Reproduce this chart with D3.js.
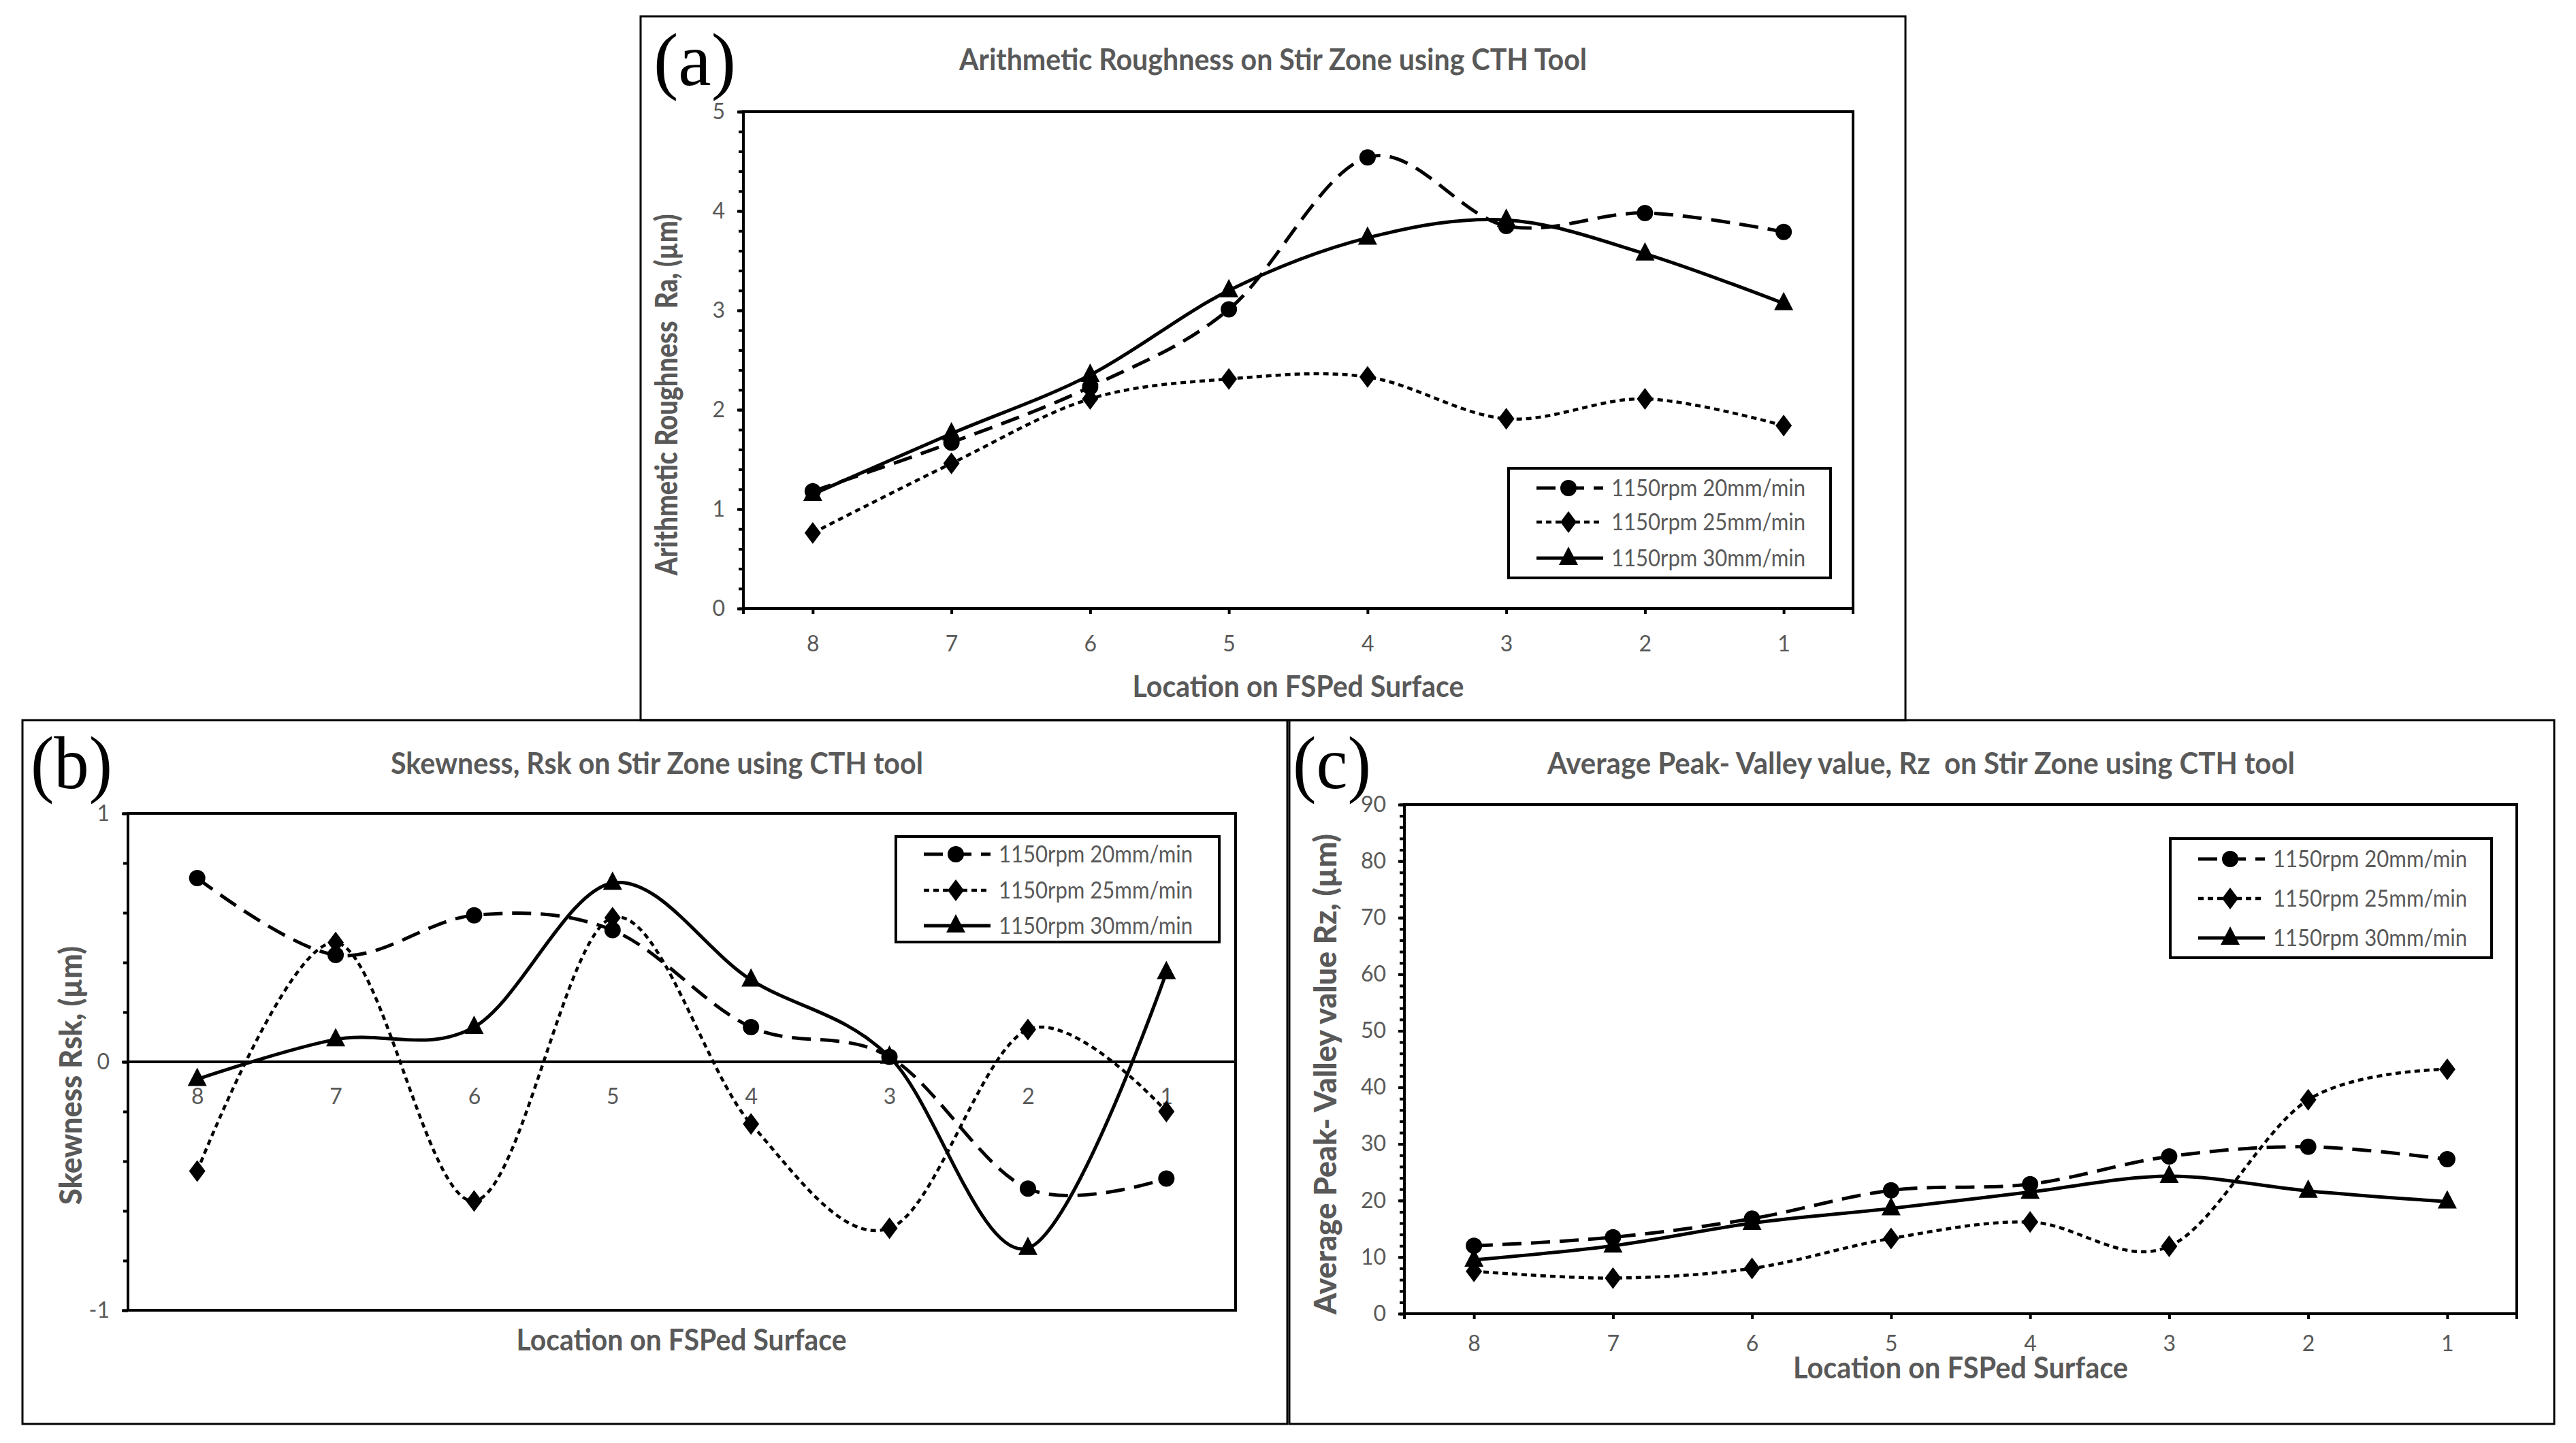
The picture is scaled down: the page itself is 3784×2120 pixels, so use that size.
<!DOCTYPE html>
<html>
<head>
<meta charset="utf-8">
<script src="https://cdn.jsdelivr.net/npm/d3@7"></script>
<style>
  html, body { margin: 0; padding: 0; background: #fff; }
  svg { display: block; }
  text { white-space: pre; }
</style>
</head>
<body>
<div id="chart"></div>
<script>
// categories (location on the processed surface, read right to left)
const locations = ["8", "7", "6", "5", "4", "3", "2", "1"];
const seriesNames = ["1150rpm 20mm/min", "1150rpm 25mm/min", "1150rpm 30mm/min"];

// (a) arithmetic roughness Ra, µm
const ra20 = [1.18, 1.67, 2.23, 3.01, 4.54, 3.85, 3.98, 3.79];
const ra25 = [0.76, 1.46, 2.11, 2.31, 2.33, 1.91, 2.11, 1.84];
const ra30 = [1.15, 1.76, 2.35, 3.20, 3.73, 3.91, 3.57, 3.07];

// (b) skewness Rsk
const rsk20 = [0.74, 0.43, 0.59, 0.53, 0.14, 0.02, -0.51, -0.47];
const rsk25 = [-0.44, 0.48, -0.56, 0.58, -0.25, -0.67, 0.13, -0.20];
const rsk30 = [-0.07, 0.09, 0.14, 0.72, 0.33, 0.02, -0.75, 0.36];

// (c) average peak-valley Rz, µm
const rz20 = [12.0, 13.5, 16.8, 21.8, 22.9, 27.8, 29.5, 27.3];
const rz25 = [7.5, 6.3, 8.0, 13.3, 16.2, 11.9, 37.8, 43.2];
const rz30 = [9.5, 12.0, 16.0, 18.6, 21.5, 24.3, 21.7, 19.8];

// tick labels
const raTicks = [0, 1, 2, 3, 4, 5];
const rskTicks = [-1, 0, 1];
const rzTicks = [0, 10, 20, 30, 40, 50, 60, 70, 80, 90];

const W = 3784, H = 2120;
const grey = "#595959";
const sans = "Lato, 'Open Sans', sans-serif";

const lineStyles = [
    { dash: "28,14", width: 5, marker: "circle" },
    { dash: "8,6", width: 4.5, marker: "diamond" },
    { dash: null, width: 5, marker: "triangle" }
];

const panels = [
    {
        label: "(a)", labelPos: [960, 125, 121],
        series: [ra20, ra25, ra30], ticks: raTicks, minorStep: 0.2,
        box: [941, 24, 2799, 1058], plot: [1092, 164, 2722, 894],
        title: "Arithmetic Roughness on Stir Zone using CTH Tool", titlePos: [1870, 103, 922],
        xTitlePos: [1907, 1024, 487],
        yTitle: "Arithmetic Roughness  Ra, (\u00b5m)", yTitlePos: [979, 580, 531],
        xTickY: 957, zeroAxis: false,
        legend: [2216, 688, 2689, 849], legendRows: [717, 767, 820]
    },
    {
        label: "(b)", labelPos: [45, 1158, 120],
        series: [rsk20, rsk25, rsk30], ticks: rskTicks, minorStep: 0.2,
        box: [33, 1058, 1891, 2092], plot: [188, 1195, 1815, 1925],
        title: "Skewness, Rsk on Stir Zone using CTH tool", titlePos: [965, 1137, 782],
        xTitlePos: [1001, 1984, 485],
        yTitle: "Skewness Rsk, (\u00b5m)", yTitlePos: [104, 1580, 380],
        xTickY: 1622, zeroAxis: true,
        legend: [1316, 1229, 1791, 1384], legendRows: [1255, 1308, 1360]
    },
    {
        label: "(c)", labelPos: [1899, 1158, 115],
        series: [rz20, rz25, rz30], ticks: rzTicks, minorStep: 2,
        box: [1894, 1058, 3752, 2092], plot: [2063, 1182, 3697, 1930],
        title: "Average Peak- Valley value, Rz  on Stir Zone using CTH tool", titlePos: [2822, 1137, 1098],
        xTitlePos: [2880, 2025, 492],
        yTitle: "Average Peak- Valley value Rz, (\u00b5m)", yTitlePos: [1947, 1578, 706],
        xTickY: 1985, zeroAxis: false,
        legend: [3188, 1232, 3660, 1407], legendRows: [1262, 1320, 1378]
    }
];

function markerPath(kind) {
    if (kind === "circle") return d3.symbol(d3.symbolCircle, Math.PI * 12 * 12)();
    if (kind === "diamond") return "M0,-16L12,0L0,16L-12,0Z";
    return "M0,-17L14,10L-14,10Z";
}

function styleAxis(sel) {
    sel.select(".domain").remove();
    sel.selectAll(".tick line")
        .attr("stroke", "#000")
        .attr("stroke-width", 4);
    sel.selectAll(".tick text")
        .attr("fill", grey)
        .style("font-family", sans)
        .style("font-size", "32px");
}

function drawPanel(svg, p) {
    const g = svg.append("g");
    const [left, top, right, bottom] = p.plot;

    // outer panel frame
    g.append("rect")
        .attr("x", p.box[0]).attr("y", p.box[1])
        .attr("width", p.box[2] - p.box[0]).attr("height", p.box[3] - p.box[1])
        .attr("fill", "none").attr("stroke", "#000").attr("stroke-width", 3);

    const x = d3.scalePoint().domain(locations).range([left, right]).padding(0.5);
    const y = d3.scaleLinear().domain(d3.extent(p.ticks)).range([bottom, top]);

    // minor and major y ticks
    const [lo, hi] = y.domain();
    const minor = d3.range(lo, hi + p.minorStep / 2, p.minorStep);
    g.append("g")
        .attr("transform", `translate(${left},0)`)
        .call(d3.axisLeft(y).tickValues(minor).tickSize(7).tickFormat(""))
        .call(styleAxis);
    g.append("g")
        .attr("transform", `translate(${left},0)`)
        .call(d3.axisLeft(y).tickValues(p.ticks).tickSize(9).tickPadding(18).tickFormat(d => String(d)))
        .call(styleAxis);

    // x axis: on the zero line for skewness, else at the bottom
    const axisY = p.zeroAxis ? y(0) : bottom;
    const xAxis = g.append("g")
        .attr("transform", `translate(0,${axisY})`)
        .call(d3.axisBottom(x).tickSize(p.zeroAxis ? 0 : 8))
        .call(styleAxis);
    xAxis.selectAll(".tick text")
        .attr("y", p.xTickY - axisY)
        .attr("dy", null);
    if (!p.zeroAxis) {
        g.selectAll(".edge")
            .data([left, right])
            .enter()
            .append("line")
            .attr("x1", d => d).attr("x2", d => d)
            .attr("y1", bottom).attr("y2", bottom + 8)
            .attr("stroke", "#000").attr("stroke-width", 4);
    }

    // plot frame
    g.append("rect")
        .attr("x", left).attr("y", top)
        .attr("width", right - left).attr("height", bottom - top)
        .attr("fill", "none").attr("stroke", "#000").attr("stroke-width", 4);
    if (p.zeroAxis) {
        g.append("line")
            .attr("x1", left).attr("x2", right)
            .attr("y1", y(0)).attr("y2", y(0))
            .attr("stroke", "#000").attr("stroke-width", 4);
    }

    // series lines and markers
    const line = d3.line()
        .x((d, i) => x(locations[i]))
        .y(d => y(d))
        .curve(d3.curveCardinal.tension(0));

    p.series.forEach((values, k) => {
        const st = lineStyles[k];
        g.append("path")
            .datum(values)
            .attr("d", line)
            .attr("fill", "none")
            .attr("stroke", "#000")
            .attr("stroke-width", st.width)
            .attr("stroke-dasharray", st.dash);
        g.selectAll(".m" + k)
            .data(values)
            .enter()
            .append("path")
            .attr("class", "m" + k)
            .attr("d", markerPath(st.marker))
            .attr("transform", (d, i) => `translate(${x(locations[i])},${y(d)})`)
            .attr("fill", "#000");
    });

    // legend
    const [lx0, ly0, lx1, ly1] = p.legend;
    g.append("rect")
        .attr("x", lx0).attr("y", ly0)
        .attr("width", lx1 - lx0).attr("height", ly1 - ly0)
        .attr("fill", "#fff").attr("stroke", "#000").attr("stroke-width", 4);
    seriesNames.forEach((name, k) => {
        const st = lineStyles[k];
        const ry = p.legendRows[k];
        g.append("line")
            .attr("x1", lx0 + 41).attr("x2", lx0 + 139)
            .attr("y1", ry).attr("y2", ry)
            .attr("stroke", "#000")
            .attr("stroke-width", st.width)
            .attr("stroke-dasharray", st.dash);
        g.append("path")
            .attr("d", markerPath(st.marker))
            .attr("transform", `translate(${lx0 + 88},${ry})`)
            .attr("fill", "#000");
        g.append("text")
            .attr("x", lx0 + 151).attr("y", ry)
            .attr("dy", "0.35em")
            .attr("fill", grey)
            .attr("textLength", 285)
            .attr("lengthAdjust", "spacingAndGlyphs")
            .style("font-family", sans)
            .style("font-size", "34px")
            .text(name);
    });

    // titles
    g.append("text")
        .attr("x", p.titlePos[0]).attr("y", p.titlePos[1])
        .attr("text-anchor", "middle")
        .attr("fill", grey)
        .attr("textLength", p.titlePos[2])
        .attr("lengthAdjust", "spacingAndGlyphs")
        .style("font-family", sans).style("font-weight", "bold").style("font-size", "43px")
        .text(p.title);

    g.append("text")
        .attr("x", p.xTitlePos[0]).attr("y", p.xTitlePos[1])
        .attr("text-anchor", "middle")
        .attr("fill", grey)
        .attr("textLength", p.xTitlePos[2])
        .attr("lengthAdjust", "spacingAndGlyphs")
        .style("font-family", sans).style("font-weight", "bold").style("font-size", "44px")
        .text("Location on FSPed Surface");

    g.append("text")
        .attr("transform", `translate(${p.yTitlePos[0]},${p.yTitlePos[1]}) rotate(-90)`)
        .attr("text-anchor", "middle")
        .attr("dy", "0.35em")
        .attr("fill", grey)
        .attr("textLength", p.yTitlePos[2])
        .attr("lengthAdjust", "spacingAndGlyphs")
        .style("font-family", sans).style("font-weight", "900").style("font-size", "46px")
        .text(p.yTitle);

    // panel letter
    g.append("text")
        .attr("x", p.labelPos[0]).attr("y", p.labelPos[1])
        .attr("fill", "#000")
        .attr("textLength", p.labelPos[2])
        .attr("lengthAdjust", "spacingAndGlyphs")
        .style("font-family", "'Liberation Serif', 'Times New Roman', serif")
        .style("font-size", "110px")
        .text(p.label);
}

const svg = d3.select("#chart")
    .append("svg")
    .attr("width", W)
    .attr("height", H)
    .style("background", "#fff");

panels.forEach(p => drawPanel(svg, p));
</script>
</body>
</html>
